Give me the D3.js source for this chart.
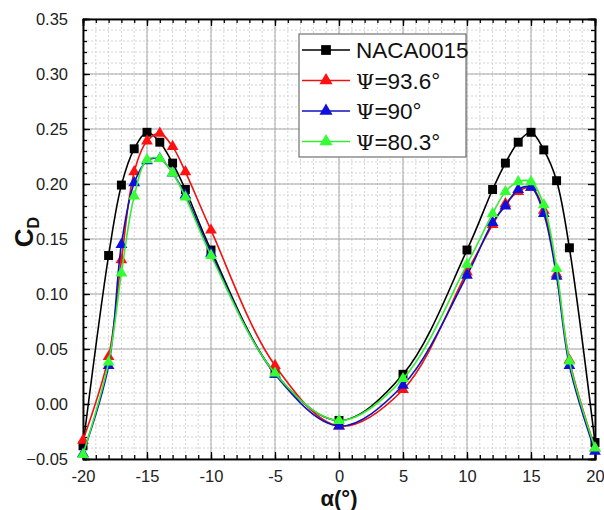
<!DOCTYPE html>
<html>
<head>
<meta charset="utf-8">
<script src="https://cdn.jsdelivr.net/npm/d3@7"></script>
<style>
  body { margin: 0; background: #fff; }
  svg { font-family: Arial, "Liberation Sans", sans-serif; }
</style>
</head>
<body>
<div id="vis"></div>
<script>
const width = 604
const height = 510
const marginLeft = 83
const marginTop = 19
const plotW = 512
const plotH = 440

// angle of attack (deg)
const alpha = [-20, -18, -17, -16, -15, -14, -13, -12, -10, -5, 0, 5, 10, 12, 13, 14, 15, 16, 17, 18, 20]

const naca = [-0.038, 0.135, 0.199, 0.232, 0.247, 0.238, 0.219, 0.195, 0.140, 0.028, -0.015, 0.027, 0.140, 0.195, 0.219, 0.238, 0.247, 0.231, 0.203, 0.142, -0.035]
const psi936 = [-0.033, 0.043, 0.131, 0.211, 0.239, 0.246, 0.234, 0.211, 0.158, 0.035, -0.020, 0.013, 0.120, 0.163, 0.182, 0.193, 0.197, 0.176, 0.118, 0.040, -0.040]
const psi90 = [-0.045, 0.035, 0.145, 0.201, 0.221, 0.223, 0.210, 0.190, 0.137, 0.027, -0.020, 0.017, 0.117, 0.165, 0.180, 0.195, 0.197, 0.173, 0.116, 0.035, -0.043]
const psi803 = [-0.046, 0.038, 0.119, 0.189, 0.222, 0.223, 0.210, 0.188, 0.135, 0.028, -0.015, 0.023, 0.127, 0.173, 0.193, 0.202, 0.202, 0.181, 0.123, 0.039, -0.040]

const seriesNames = ["NACA0015", "\u03A8=93.6\u00B0", "\u03A8=90\u00B0", "\u03A8=80.3\u00B0"]
const seriesValues = [naca, psi936, psi90, psi803]
const colours = ["#000000", "#ee1111", "#1111bb", "#33ee33"]
const markerColours = ["#000000", "#ff1111", "#1010dd", "#33ff33"]
const shapes = [d3.symbolSquare, d3.symbolTriangle, d3.symbolTriangle, d3.symbolTriangle]
const sizes = [80, 60, 60, 60]

const xTicks = [-20, -15, -10, -5, 0, 5, 10, 15, 20]
const yTicks = [-0.05, 0.00, 0.05, 0.10, 0.15, 0.20, 0.25, 0.30, 0.35]

const svg = d3.select("#vis")
    .append("svg")
    .attr("width", width)
    .attr("height", height)

const container = svg.append("g")
    .attr("transform", `translate(${marginLeft}, ${marginTop})`)

const xScale = d3.scaleLinear([-20, 20], [0, plotW])
const yScale = d3.scaleLinear([-0.05, 0.35], [plotH, 0])

const xMinor = d3.range(-20, 20.01, 1)
const yMinor = d3.range(-0.05, 0.3501, 0.01)

// minor grid (dashed)
container.append("g")
    .selectAll("line")
    .data(xMinor)
    .join("line")
        .attr("x1", d => xScale(d)).attr("x2", d => xScale(d))
        .attr("y1", 0).attr("y2", plotH)
        .attr("stroke", "#d4d4d4")
        .attr("stroke-dasharray", "2,2")
container.append("g")
    .selectAll("line")
    .data(yMinor)
    .join("line")
        .attr("x1", 0).attr("x2", plotW)
        .attr("y1", d => yScale(d)).attr("y2", d => yScale(d))
        .attr("stroke", "#d4d4d4")
        .attr("stroke-dasharray", "2,2")

// major grid
container.append("g")
    .selectAll("line")
    .data(xTicks)
    .join("line")
        .attr("x1", d => xScale(d)).attr("x2", d => xScale(d))
        .attr("y1", 0).attr("y2", plotH)
        .attr("stroke", "#a8a8a8")
container.append("g")
    .selectAll("line")
    .data(yTicks)
    .join("line")
        .attr("x1", 0).attr("x2", plotW)
        .attr("y1", d => yScale(d)).attr("y2", d => yScale(d))
        .attr("stroke", "#a8a8a8")

// axes with inward ticks on all sides
const fmtY = d3.format(".2f")
const axes = [
    {axis: d3.axisBottom(xScale).tickValues(xTicks).tickFormat(d => d).tickSize(-7).tickPadding(11), t: `translate(0, ${plotH})`},
    {axis: d3.axisBottom(xScale).tickValues(xMinor).tickFormat("").tickSize(-4), t: `translate(0, ${plotH})`},
    {axis: d3.axisTop(xScale).tickValues(xTicks).tickFormat("").tickSize(-7), t: "translate(0, 0)"},
    {axis: d3.axisTop(xScale).tickValues(xMinor).tickFormat("").tickSize(-4), t: "translate(0, 0)"},
    {axis: d3.axisLeft(yScale).tickValues(yTicks).tickFormat(fmtY).tickSize(-7).tickPadding(15), t: "translate(0, 0)"},
    {axis: d3.axisLeft(yScale).tickValues(yMinor).tickFormat("").tickSize(-4), t: "translate(0, 0)"},
    {axis: d3.axisRight(yScale).tickValues(yTicks).tickFormat("").tickSize(-7), t: `translate(${plotW}, 0)`},
    {axis: d3.axisRight(yScale).tickValues(yMinor).tickFormat("").tickSize(-4), t: `translate(${plotW}, 0)`},
]
axes.forEach(a => {
    const g = container.append("g")
        .attr("transform", a.t)
        .call(a.axis)
    g.select(".domain").attr("stroke", "#000").attr("stroke-width", 1.5)
    g.selectAll(".tick line").attr("stroke", "#000").attr("stroke-width", 1.3)
    g.selectAll(".tick text")
        .attr("font-size", 16.5)
        .attr("fill", "#222")
        .attr("font-family", "Arial, 'Liberation Sans', sans-serif")
})

// curves
const line = d3.line()
    .x(d => xScale(d[0]))
    .y(d => yScale(d[1]))
    .curve(d3.curveCatmullRom.alpha(0.5))

seriesValues.forEach((vals, i) => {
    const pts = alpha.map((a, j) => [a, vals[j]])
    container.append("path")
        .datum(pts)
        .attr("d", line)
        .attr("fill", "none")
        .attr("stroke", colours[i])
        .attr("stroke-width", 1.6)
    container.selectAll(`path.marker-${i}`)
        .data(pts)
        .join("path")
            .attr("class", `marker-${i}`)
            .attr("d", d3.symbol(shapes[i], sizes[i]))
            .attr("transform", d => `translate(${xScale(d[0])}, ${yScale(d[1])})`)
            .attr("fill", markerColours[i])
})

// legend
const legend = svg.append("g")
    .attr("transform", "translate(299, 34)")
legend.append("rect")
    .attr("width", 167)
    .attr("height", 123)
    .attr("fill", "#fff")
    .attr("stroke", "#555")
    .attr("stroke-width", 1)

seriesNames.forEach((name, i) => {
    const y = 16 + i * 30.5
    legend.append("line")
        .attr("x1", 3).attr("x2", 51)
        .attr("y1", y).attr("y2", y)
        .attr("stroke", colours[i])
        .attr("stroke-width", 1.6)
    legend.append("path")
        .attr("d", d3.symbol(shapes[i], sizes[i] + 15))
        .attr("transform", `translate(27, ${y})`)
        .attr("fill", markerColours[i])
    const t = legend.append("text")
        .attr("x", 57)
        .attr("y", y)
        .attr("dy", "0.36em")
        .attr("font-size", 22.5)
        .attr("fill", "#111")
    if (i === 0) {
        t.text(name)
    } else {
        t.append("tspan").attr("font-family", "'DejaVu Serif', 'Liberation Serif', serif").attr("font-size", 21).text(name[0])
        t.append("tspan").text(name.slice(1))
    }
})

// axis titles
svg.append("text")
    .attr("x", marginLeft + xScale(0))
    .attr("y", 505.5)
    .attr("text-anchor", "middle")
    .attr("font-size", 22)
    .attr("font-weight", "bold")
    .attr("fill", "#111")
    .text("\u03B1(\u00B0)")

const yTitle = svg.append("text")
    .attr("transform", "translate(33, 232) rotate(-90)")
    .attr("text-anchor", "middle")
    .attr("font-size", 26)
    .attr("font-weight", "bold")
    .attr("fill", "#111")
yTitle.append("tspan").text("C")
yTitle.append("tspan").attr("font-size", 16).attr("dy", 6).text("D")
</script>
</body>
</html>
